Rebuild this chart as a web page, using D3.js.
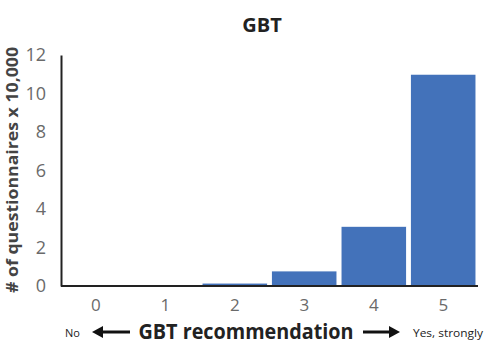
<!DOCTYPE html>
<html><head><meta charset="utf-8">
<script src="https://cdn.jsdelivr.net/npm/d3@7"></script>
<style>body{margin:0;background:#fff;} svg{display:block;}</style>
</head><body>
<svg id="c" width="485" height="360"></svg>
<script>
const categories = ["0","1","2","3","4","5"];
const values = [0.01, 0.02, 0.15, 0.78, 3.1, 11];
const yTicks = [0,2,4,6,8,10,12];
const title = "GBT";
const yTitle = "# of questionnaires x 10,000";
const xTitle = "GBT recommendation";
const leftNote = "No";
const rightNote = "Yes, strongly";

const svg = d3.select("#c");
const font = "'Open Sans', 'Noto Sans', sans-serif";
const m = {left:61, right:478, top:55, bottom:286};
const x = d3.scaleBand().domain(categories).range([m.left, m.right]).paddingInner(0.06).paddingOuter(0.03);
const y = d3.scaleLinear().domain([0,12]).range([m.bottom, m.top]);

svg.selectAll("rect.bar").data(values).join("rect")
  .attr("class","bar")
  .attr("x",(d,i)=>x(categories[i]))
  .attr("width",x.bandwidth())
  .attr("y",d=>y(d))
  .attr("height",d=>y(0)-y(d))
  .attr("fill","#4372ba")
  .attr("stroke","#fff").attr("stroke-width",0.8);

const ya = svg.append("g").attr("transform",`translate(${m.left},0)`)
  .call(d3.axisLeft(y).tickValues(yTicks).tickSize(0).tickPadding(15));
ya.select(".domain").attr("stroke","#222").attr("stroke-width",2);
ya.selectAll("text").attr("font-family",font).attr("font-size",18).attr("fill","#6a6a6a");

const xa = svg.append("g").attr("transform",`translate(0,${m.bottom})`)
  .call(d3.axisBottom(x).tickSize(0).tickPadding(13));
xa.select(".domain").attr("stroke","#222").attr("stroke-width",2).attr("d",`M${m.left},0H${m.right}`);
xa.selectAll("text").attr("font-family",font).attr("font-size",17).attr("fill","#6a6a6a");

svg.append("text").attr("x",262).attr("y",32).attr("text-anchor","middle")
  .attr("font-family",font).attr("font-weight","bold").attr("font-size",20).attr("fill","#222").text(title);

svg.append("text").attr("transform","translate(18,170) rotate(-90)").attr("text-anchor","middle")
  .attr("font-family",font).attr("font-weight","bold").attr("font-size",16).attr("fill","#444")
  .attr("textLength",246).attr("lengthAdjust","spacingAndGlyphs").text(yTitle);

svg.append("text").attr("x",246).attr("y",339).attr("text-anchor","middle")
  .attr("font-family",font).attr("font-weight","bold").attr("font-size",21).attr("fill","#222")
  .attr("textLength",215).attr("lengthAdjust","spacingAndGlyphs").text(xTitle);

svg.append("text").attr("x",65).attr("y",337).attr("font-family",font).attr("font-size",11).attr("fill","#222").text(leftNote);
svg.append("text").attr("x",413).attr("y",337).attr("font-family",font).attr("font-size",11).attr("fill","#222")
  .attr("textLength",70).attr("lengthAdjust","spacingAndGlyphs").text(rightNote);

function arrow(x1,x2,yy){
  const dir = Math.sign(x2-x1);
  svg.append("line").attr("x1",x1).attr("x2",x2-dir*8).attr("y1",yy).attr("y2",yy).attr("stroke","#111").attr("stroke-width",3);
  svg.append("path").attr("d",`M${x2},${yy}L${x2-dir*11},${yy-6}L${x2-dir*11},${yy+6}Z`).attr("fill","#111");
}
arrow(130,92,332);
arrow(363,400,332);
</script>
</body></html>
